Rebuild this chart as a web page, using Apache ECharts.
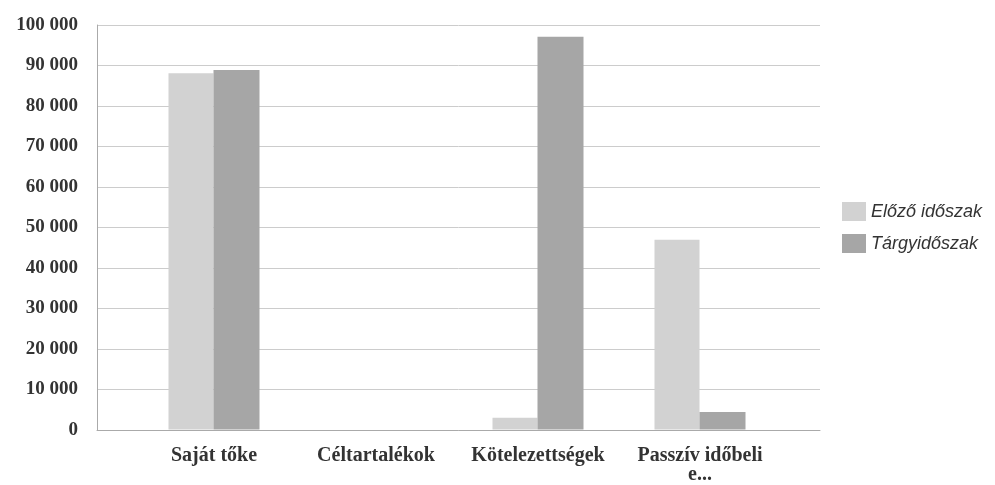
<!DOCTYPE html>
<html>
<head>
<meta charset="utf-8">
<script src="https://cdn.jsdelivr.net/npm/echarts@6/dist/echarts.min.js"></script>
<style>
  html, body { margin: 0; padding: 0; background: #ffffff; }
  #chart { width: 995px; height: 485px; }
</style>
</head>
<body>
<div id="chart"></div>
<script>
// adatok
const categories = ['Saját tőke', 'Céltartalékok', 'Kötelezettségek', 'Passzív időbeli\ne...'];
const elozo = [88100, 0, 2900, 46900];
const targy = [88900, 0, 97100, 4300];
const seriesNames = ['Előző időszak', 'Tárgyidőszak'];

const chart = echarts.init(document.getElementById('chart'));

const serif = '"Liberation Serif", "DejaVu Serif", serif';

let option = {
  backgroundColor: '#ffffff',
  animation: false,
  color: ['#d2d2d2', '#a6a6a6'],
  legend: {
    orient: 'vertical',
    left: 837,
    top: 197,
    itemWidth: 24,
    itemHeight: 19,
    itemGap: 13,
    icon: 'rect',
    textStyle: {
      fontFamily: '"Liberation Sans", Arial, sans-serif',
      fontStyle: 'italic',
      fontSize: 18,
      color: '#333'
    },
    data: seriesNames
  },
  grid: [
    // rács + y tengely
    { left: 97, right: 175, top: 25, bottom: 55 },
    // oszlopok
    { left: 133, right: 214, top: 25, bottom: 55 }
  ],
  xAxis: [{
    gridIndex: 0,
    type: 'category',
    data: ['', '', '', ''],
    axisLine: { lineStyle: { color: '#aaa' } },
    axisTick: { show: false },
    axisLabel: { show: false }
  }, {
    gridIndex: 1,
    type: 'category',
    data: categories,
    axisLine: { show: false },
    axisTick: { show: false },
    axisLabel: {
      interval: 0,
      margin: 17,
      fontFamily: serif,
      fontWeight: 'bold',
      fontSize: 20,
      color: '#333',
      lineHeight: 19
    }
  }],
  yAxis: [{
    gridIndex: 0,
    type: 'value',
    min: 0,
    max: 100000,
    interval: 10000,
    axisLine: { show: true, lineStyle: { color: '#aaa' } },
    axisTick: { show: false },
    splitLine: { lineStyle: { color: '#cccccc' } },
    axisLabel: {
      margin: 19,
      fontFamily: serif,
      fontWeight: 'bold',
      fontSize: 19,
      color: '#333',
      formatter: function (v) {
        return String(v).replace(/\B(?=(\d{3})+(?!\d))/g, ' ');
      }
    }
  }, {
    gridIndex: 1,
    type: 'value',
    min: 0,
    max: 100000,
    interval: 10000,
    show: false
  }],
  series: [{
    name: seriesNames[0],
    type: 'bar',
    xAxisIndex: 1,
    yAxisIndex: 1,
    barWidth: 45,
    barGap: '0%',
    data: elozo
  }, {
    name: seriesNames[1],
    type: 'bar',
    xAxisIndex: 1,
    yAxisIndex: 1,
    barWidth: 46,
    barGap: '0%',
    data: targy
  }]
};

chart.setOption(option);
</script>
</body>
</html>
